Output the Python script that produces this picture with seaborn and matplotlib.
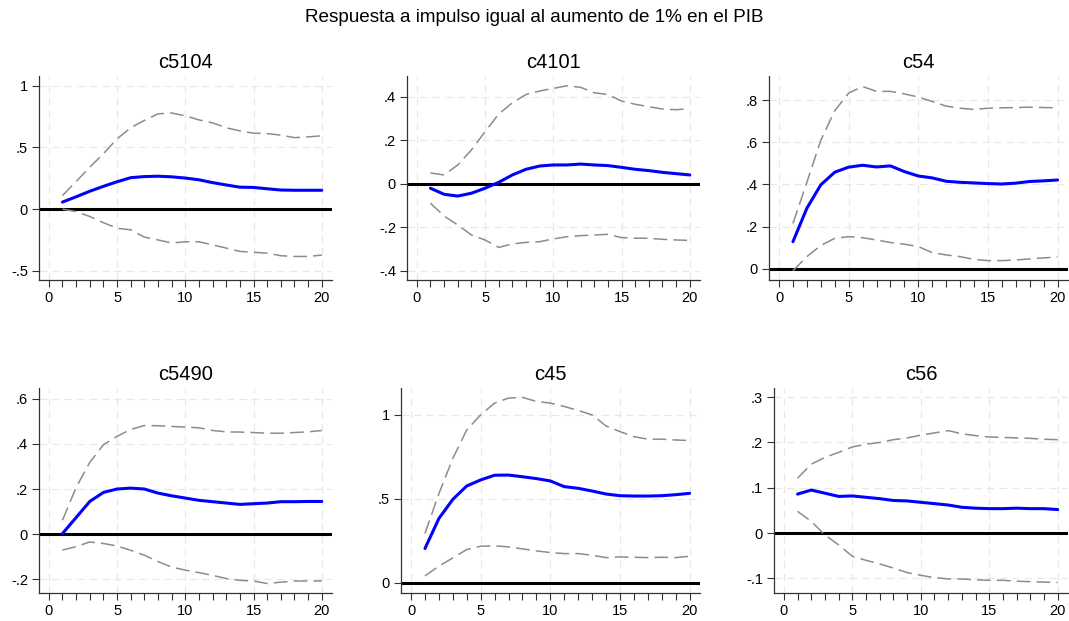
import numpy as np
import seaborn as sns
from matplotlib import pyplot as plt
from matplotlib.ticker import FixedLocator, FuncFormatter, MultipleLocator

steps = list(range(1, 21))

names = ["c5104", "c4101", "c54", "c5490", "c45", "c56"]

irf_c5104 = [.057, .10, .145, .185, .222, .255, .264, .267, .262, .252,
             .238, .215, .196, .178, .176, .165, .155, .153, .153, .153]
up_c5104 = [.11, .224, .34, .45, .57, .66, .72, .773, .78, .757,
            .724, .70, .66, .635, .616, .613, .60, .58, .586, .595]
lo_c5104 = [0.0, -.02, -.06, -.11, -.155, -.168, -.227, -.25, -.275, -.265,
            -.265, -.29, -.316, -.343, -.35, -.357, -.378, -.384, -.384, -.373]

irf_c4101 = [-.021, -.049, -.057, -.044, -.021, .006, .04, .066, .081, .086,
             .086, .09, .086, .083, .075, .066, .06, .052, .046, .04]
up_c4101 = [.049, .04, .086, .155, .239, .32, .372, .41, .426, .438,
            .45, .443, .418, .41, .38, .365, .354, .343, .34, .345]
lo_c4101 = [-.09, -.149, -.19, -.236, -.259, -.293, -.277, -.27, -.267, -.254,
            -.244, -.239, -.236, -.233, -.248, -.251, -.251, -.256, -.259, -.261]

irf_c54 = [.128, .287, .398, .458, .482, .491, .483, .488, .461, .44,
           .431, .415, .41, .407, .404, .402, .406, .414, .417, .421]
up_c54 = [.215, .41, .61, .75, .834, .865, .842, .842, .83, .815,
          .794, .772, .762, .756, .762, .764, .765, .767, .765, .764]
lo_c54 = [-.01, .057, .11, .144, .152, .147, .136, .124, .116, .105,
          .076, .065, .057, .044, .038, .038, .041, .046, .051, .055]

irf_c5490 = [.003, .074, .145, .185, .2, .204, .2, .182, .17, .16,
             .15, .144, .138, .132, .135, .138, .144, .144, .145, .145]
up_c5490 = [.062, .207, .318, .396, .433, .464, .481, .48, .477, .474,
            .471, .459, .453, .452, .45, .447, .447, .45, .453, .459]
lo_c5490 = [-.07, -.055, -.034, -.041, -.052, -.071, -.093, -.121, -.145, -.159,
            -.17, -.182, -.196, -.204, -.207, -.218, -.212, -.207, -.207, -.207]

irf_c45 = [.203, .382, .496, .576, .612, .64, .641, .631, .62, .606,
           .572, .562, .546, .528, .518, .516, .516, .518, .524, .532]
up_c45 = [.293, .53, .74, .91, 1.0, 1.07, 1.1, 1.104, 1.08, 1.07,
          1.05, 1.026, 1.0, .934, .9, .87, .855, .855, .85, .847]
lo_c45 = [.04, .098, .147, .197, .217, .219, .213, .201, .189, .179,
          .173, .173, .163, .149, .153, .151, .149, .151, .149, .157]

irf_c56 = [.086, .095, .088, .081, .082, .079, .076, .072, .071, .068,
           .065, .062, .057, .055, .054, .054, .055, .054, .054, .052]
up_c56 = [.121, .152, .167, .178, .19, .196, .2, .206, .21, .216,
          .221, .226, .219, .215, .212, .211, .21, .209, .207, .206]
lo_c56 = [.048, .026, -.004, -.026, -.051, -.06, -.068, -.077, -.087, -.093,
          -.098, -.101, -.101, -.103, -.104, -.104, -.106, -.107, -.108, -.109]

irfs = [irf_c5104, irf_c4101, irf_c54, irf_c5490, irf_c45, irf_c56]
uppers = [up_c5104, up_c4101, up_c54, up_c5490, up_c45, up_c56]
lowers = [lo_c5104, lo_c4101, lo_c54, lo_c5490, lo_c45, lo_c56]

yticks = [[-0.5, 0, 0.5, 1],
          [-0.4, -0.2, 0, 0.2, 0.4],
          [0, 0.2, 0.4, 0.6, 0.8],
          [-0.2, 0, 0.2, 0.4, 0.6],
          [0, 0.5, 1],
          [-0.1, 0, 0.1, 0.2, 0.3]]
ylims = [(-0.575, 1.08), (-0.443, 0.495), (-0.054, 0.915),
         (-0.26, 0.647), (-0.062, 1.16), (-0.132, 0.32)]

# panel boxes in pixels: left, right, top, bottom
boxes = [(39, 332, 76, 280), (407, 700, 76, 280), (769, 1068, 76, 280),
         (39, 332, 388, 593), (401, 700, 388, 593), (774, 1068, 388, 593)]

W, H = 1069, 621

sns.set_style("white")
plt.rcParams['font.family'] = ['Liberation Sans', 'DejaVu Sans']
plt.rcParams['text.color'] = 'black'
plt.rcParams['xtick.color'] = 'black'
plt.rcParams['ytick.color'] = 'black'


def stata_fmt(v, pos=None):
    s = f"{v:g}"
    if s in ("-0", "0"):
        return "0"
    return s.replace("0.", ".")


fig = plt.figure(figsize=(W / 100, H / 100), dpi=100)
fig.text(0.5, 1 - 18 / H, "Respuesta a impulso igual al aumento de 1% en el PIB",
         ha="center", va="center", fontsize=13.6, color="black")

for i, name in enumerate(names):
    l, r, t, b = boxes[i]
    ax = fig.add_axes([l / W, 1 - b / H, (r - l) / W, (b - t) / H])
    ax.grid(True, color="#e8e8e8", linestyle=(0, (6, 4)), linewidth=0.9)
    ax.set_axisbelow(True)
    ax.axhline(0, color="black", linewidth=2.2, zorder=2)
    sns.lineplot(x=steps, y=uppers[i], ax=ax, color="#8c8c8c", linewidth=1.1,
                 dashes=False, zorder=3)
    sns.lineplot(x=steps, y=lowers[i], ax=ax, color="#8c8c8c", linewidth=1.1,
                 dashes=False, zorder=3)
    for ln in ax.lines[-2:]:
        ln.set_dashes((9, 4))
    sns.lineplot(x=steps, y=irfs[i], ax=ax, color="#0000ff", linewidth=2.2, zorder=4)
    ax.set_xlim(-0.72, 20.75)
    ax.set_ylim(*ylims[i])
    ax.xaxis.set_major_locator(MultipleLocator(5))
    ax.xaxis.set_minor_locator(MultipleLocator(1))
    ax.yaxis.set_major_locator(FixedLocator(yticks[i]))
    ax.yaxis.set_major_formatter(FuncFormatter(stata_fmt))
    ax.tick_params(axis="both", which="major", direction="out", length=5,
                   width=0.8, color="#333333", labelcolor="black", labelsize=10.5,
                   pad=3, left=True, bottom=True)
    ax.tick_params(axis="x", which="minor", direction="out", length=5,
                   width=0.8, color="#333333", bottom=True)
    for side in ("top", "right"):
        ax.spines[side].set_visible(False)
    for side in ("left", "bottom"):
        ax.spines[side].set_color("#333333")
        ax.spines[side].set_linewidth(0.9)
    ax.set_title(name, fontsize=14.5, pad=6, color="black")
    ax.set_xlabel("")
    ax.set_ylabel("")

fig.savefig("out.png", dpi=100)
